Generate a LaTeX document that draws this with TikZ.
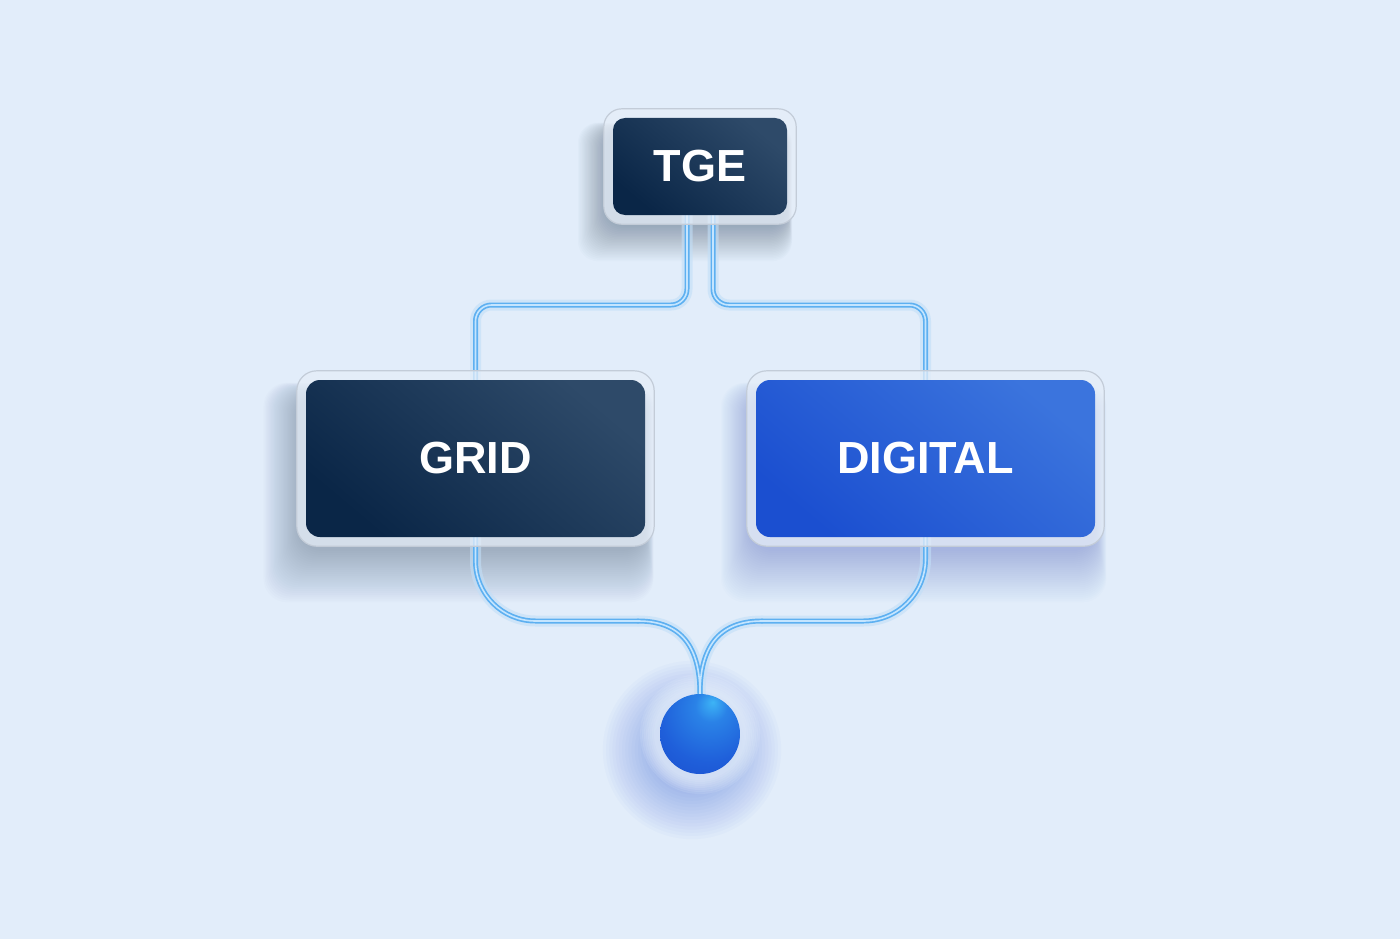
\documentclass[tikz,border=0pt]{standalone}
\usepackage{fontspec}
\setmainfont{Liberation Sans}
\usetikzlibrary{calc}
\definecolor{bg}{HTML}{E2EDFA}
\definecolor{navyA}{HTML}{0A2647}
\definecolor{navyB}{HTML}{2E4A69}
\definecolor{blueA}{HTML}{1B4FD0}
\definecolor{blueB}{HTML}{3B74DD}
\definecolor{framefill}{HTML}{E6EEF8}
\definecolor{frameedge}{HTML}{C3CCD8}
\definecolor{wireC}{HTML}{5DB0F1}
\definecolor{wireG}{HTML}{C2DFF8}
\definecolor{wireCore}{HTML}{C4E5FF}
\definecolor{shadowN}{HTML}{1E3550}
\definecolor{shadowB}{HTML}{2F5BE0}
\definecolor{halo}{HTML}{EEF7FF}
\definecolor{ballhl}{HTML}{3DB4F6}
\definecolor{ballmid}{HTML}{2A82E7}
\definecolor{ballbody}{HTML}{1F5FDA}
\definecolor{balldark}{HTML}{1A4BCB}
\pgfdeclareradialshading{ballshade}{\pgfpoint{8bp}{20bp}}{color(0bp)=(ballhl); color(10bp)=(ballmid); color(30bp)=(ballbody); color(50bp)=(balldark); color(80bp)=(balldark)}
\pgfdeclarelayer{back}
\pgfdeclarelayer{wires}
\pgfdeclarelayer{frames}
\pgfsetlayers{back,wires,frames,main}
\newcommand\wirenet[1]{%
  \draw[#1, rounded corners=16pt] (tl) -- (tl |- busy) -- (grid.north |- busy) -- (grid.north);
  \draw[#1, rounded corners=16pt] (tr) -- (tr |- busy) -- (digital.north |- busy) -- (digital.north);
  \draw[#1, rounded corners=60pt] (grid.south) -- (grid.south |- jy) -- (jl);
  \draw[#1] (jl) .. controls ($(jl)+(44,0)$) and ($(ball.north)+(0,-46)$) .. (ball.north);
  \draw[#1, rounded corners=62pt] (digital.south) -- (digital.south |- jy) -- (jr);
  \draw[#1] (jr) .. controls ($(jr)+(-44,0)$) and ($(ball.north)+(0,-46)$) .. (ball.north);
}
\begin{document}
\begin{tikzpicture}[x=1pt,y=-1pt,
  lbl/.style={font=\bfseries\fontsize{45}{45}\selectfont, text=white, inner sep=0pt, rounded corners=14pt},
  navybox/.style={lbl, top color=navyB, bottom color=navyA, shading angle=-40},
  bluebox/.style={lbl, top color=blueB, bottom color=blueA, shading angle=-40},
  glass/.style={fill=framefill, fill opacity=0.75, draw=frameedge, line width=1.2pt},
  wireglow/.style={draw=wireG, line width=11pt, line cap=round},
  wiremain/.style={draw=wireC, line width=5pt, line cap=round},
  wirecore/.style={draw=wireCore, line width=1.6pt, line cap=round}
]
\useasboundingbox (0,0) rectangle (1400,939);

\node[navybox, minimum width=174pt, minimum height=97pt, rounded corners=12pt] (tge) at (700,166.5) {TGE};
\node[navybox, minimum width=339pt, minimum height=157pt] (grid) at (475.5,458.5) {GRID};
\node[bluebox, minimum width=339pt, minimum height=157pt] (digital) at (925.5,458.5) {DIGITAL};
\node[circle, minimum size=80pt, inner sep=0pt, shading=ballshade] (ball) at (700,734) {};

\coordinate (busy) at (700,305);
\coordinate (jy) at (700,621);
\coordinate (jl) at (638,621);
\coordinate (jr) at (762,621);
\coordinate (tl) at ([xshift=-13pt]tge.south);
\coordinate (tr) at ([xshift=13pt]tge.south);

\begin{pgfonlayer}{back}
  \fill[bg] (0,0) rectangle (1400,939);
  % shadows
  \foreach \i in {1,...,28}
    \fill[shadowN, opacity=0.013, rounded corners=24pt]
      ($(grid.north west)+(-6-\i*1.3, 14-\i*0.4)$) rectangle ($(grid.south east)+(\i*0.3, 12+\i*1.9)$);
  \foreach \i in {1,...,28}
    \fill[shadowB, opacity=0.012, rounded corners=24pt]
      ($(digital.north west)+(-4-\i*1.1, 14-\i*0.4)$) rectangle ($(digital.south east)+(\i*0.4, 12+\i*1.9)$);
  \foreach \i in {1,...,24}
    \fill[shadowN, opacity=0.014, rounded corners=20pt]
      ($(tge.north west)+(-6-\i*1.2, 12-\i*0.3)$) rectangle ($(tge.south east)+(\i*0.2, 10+\i*1.5)$);
  % ball glow and halo
  \foreach \i in {1,...,16}
    \fill[shadowB, opacity=0.022] ($(ball.center)+(-8,16)$) circle ({38+\i*3.2});
  \foreach \i in {1,...,8}
    \fill[halo, opacity=0.12] (ball.center) circle ({44+\i*2});
\end{pgfonlayer}

\begin{pgfonlayer}{wires}
  \begin{scope}[opacity=0.6, transparency group]
    \wirenet{wireglow}
  \end{scope}
  \wirenet{wiremain}
  \wirenet{wirecore}
\end{pgfonlayer}

\begin{pgfonlayer}{frames}
  \draw[glass, rounded corners=18pt] ($(tge.north west)+(-9,-9)$) rectangle ($(tge.south east)+(9,9)$);
  \draw[glass, rounded corners=20pt] ($(grid.north west)+(-9,-9)$) rectangle ($(grid.south east)+(9,9)$);
  \draw[glass, rounded corners=20pt] ($(digital.north west)+(-9,-9)$) rectangle ($(digital.south east)+(9,9)$);
\end{pgfonlayer}
\end{tikzpicture}
\end{document}
